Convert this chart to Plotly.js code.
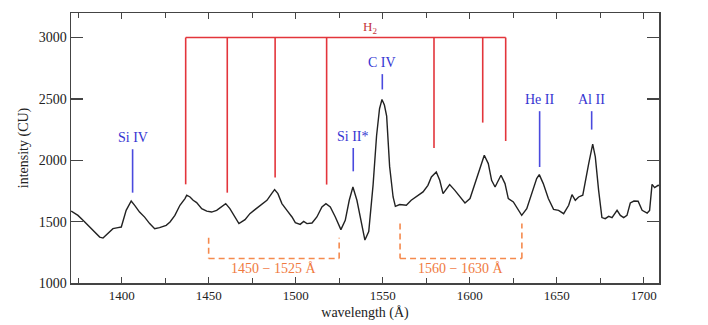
<!DOCTYPE html>
<html>
<head>
<meta charset="utf-8">
<script src="https://cdn.plot.ly/plotly-3.0.1.min.js"></script>
<style>
html,body{margin:0;padding:0;background:#fff;}
#chart{width:708px;height:325px;}
</style>
</head>
<body>
<div id="chart"></div>
<script>
// Spectrum (wavelength in Å, intensity in CU)
const wavelength = [
 1371,1374.9,1377.8,1381.6,1384.5,1387.4,1389.3,1392.1,1395,1397.9,1399.8,1402.6,1405.5,1407.5,1410.3,1413.2,1416.1,1419,1421.8,1425.6,
 1427.8,1430.6,1433.5,1436.4,1437.4,1439.3,1441.1,1443.1,1446,1448.9,1451.7,1454.6,1457.5,1459.8,1462.2,1465.1,1467.4,1470.9,1473.7,1476.6,
 1479.5,1481.5,1483.5,1486.4,1487.9,1489.8,1492.1,1495,1497.9,1499.8,1502.6,1504.6,1506.5,1509.4,1512.2,1515.1,1517.4,1519.9,1522.8,1526,
 1528.5,1530.8,1532.9,1535.2,1538.1,1539.8,1542,1544.5,1546.5,1548.2,1549.6,1551,1552.3,1554,1556,1557.3,1559.8,1563.6,1566.4,1569.3,
 1571.3,1573.2,1576,1578,1580.8,1582.8,1584.7,1586.6,1588.5,1591.5,1594.4,1597.3,1600.2,1603,1605.9,1608.4,1610.7,1612.6,1614.6,1616.4,
 1618,1620.3,1622.2,1625.1,1627.9,1629.9,1632.8,1635.6,1638.5,1640,1642.3,1645.2,1648.2,1651.1,1654,1656.9,1658.8,1660.7,1662.6,1665,
 1666.4,1668.4,1670.7,1672.2,1674.1,1676,1677.9,1679.9,1681.8,1684.7,1686.6,1688.5,1690.4,1692.3,1694.4,1696.8,1699.1,1702,1703.4,1704.8,
 1706.3,1708.3,1710
];
const intensity = [
 1586,1551,1511,1456,1415,1374,1366,1402,1443,1451,1456,1592,1668,1633,1578,1537,1484,1443,1451,1470,
 1497,1551,1633,1688,1715,1701,1674,1655,1606,1586,1578,1592,1619,1647,1606,1538,1484,1516,1565,1598,
 1633,1652,1674,1733,1761,1728,1647,1592,1538,1492,1478,1502,1484,1489,1538,1619,1647,1619,1538,1435,
 1511,1674,1782,1674,1484,1350,1420,1800,2200,2420,2495,2450,2360,1950,1701,1625,1639,1633,1674,1706,
 1728,1742,1796,1864,1905,1837,1728,1769,1802,1755,1701,1652,1688,1810,1945,2041,1973,1837,1782,1837,
 1878,1810,1688,1660,1592,1551,1606,1728,1851,1883,1810,1688,1600,1592,1565,1633,1720,1674,1701,1715,
 1837,1973,2131,2027,1755,1533,1524,1543,1533,1592,1551,1533,1551,1652,1668,1666,1592,1570,1592,1804,
 1777,1796,1790
];

// H2 line markers
const h2Wavelengths = [1436.8,1460.7,1488.2,1517.8,1579.5,1607.5,1620.7];
const h2LineEnds = [1804,1736,1859,1802,2100,2307,2157];
const h2Top = 3000;
const h2Label = "H<sub>2</sub>";
const h2LabelWl = 1543;

// Ion line markers
const ionNames = ["Si IV","Si II*","C IV","He II","Al II"];
const ionWavelengths = [1406.3,1533.1,1549.8,1640.2,1670.1];
const ionTops = [2090,2100,2702,2400,2400];
const ionBottoms = [1736,1910,2577,1945,2250];

// Wavelength bands (orange brackets)
const bandStarts = [1450,1560];
const bandEnds = [1525,1630];
const bandTops = [1368,1485];
const bandBottom = 1200;
const bandLabels = ["1450 − 1525 Å","1560 − 1630 Å"];

const red = "#e3353b", blue = "#4a4ade", orange = "#f58a4e";
const shapes = [];
const annotations = [];

// H2 bracket
shapes.push({type:"line", xref:"x", yref:"y", x0:h2Wavelengths[0], x1:h2Wavelengths[h2Wavelengths.length-1], y0:h2Top, y1:h2Top, line:{color:red, width:1.6}});
h2Wavelengths.forEach((w,i)=>{
  shapes.push({type:"line", xref:"x", yref:"y", x0:w, x1:w, y0:h2Top, y1:h2LineEnds[i], line:{color:red, width:1.6}});
});
annotations.push({x:h2LabelWl, y:h2Top, xref:"x", yref:"y", text:h2Label, showarrow:false, yanchor:"middle", yshift:10,
  font:{family:"Liberation Serif, serif", size:13, color:"#c4333a"}});

// Ion markers
ionNames.forEach((n,i)=>{
  shapes.push({type:"line", xref:"x", yref:"y", x0:ionWavelengths[i], x1:ionWavelengths[i], y0:ionTops[i], y1:ionBottoms[i], line:{color:blue, width:1.6}});
  annotations.push({x:ionWavelengths[i], y:ionTops[i], xref:"x", yref:"y", text:n, showarrow:false, yanchor:"middle", yshift:12,
    font:{family:"Liberation Serif, serif", size:14, color:"#3535d2"}});
});

// Band brackets
bandStarts.forEach((s,i)=>{
  const e = bandEnds[i];
  const ln = {color:orange, width:1.6, dash:"6px,4px"};
  shapes.push({type:"line", xref:"x", yref:"y", x0:s, x1:s, y0:bandTops[i], y1:bandBottom, line:ln});
  shapes.push({type:"line", xref:"x", yref:"y", x0:s, x1:e, y0:bandBottom, y1:bandBottom, line:ln});
  shapes.push({type:"line", xref:"x", yref:"y", x0:e, x1:e, y0:bandBottom, y1:bandTops[i], line:ln});
  annotations.push({x:(s+e)/2, y:bandBottom, xref:"x", yref:"y", text:bandLabels[i], showarrow:false, yanchor:"middle", yshift:-10,
    font:{family:"Liberation Serif, serif", size:14, color:"#f07a3e"}});
});

const trace = {x:wavelength, y:intensity, type:"scatter", mode:"lines", line:{color:"#222", width:1.4}, hoverinfo:"skip"};

const axisCommon = {
  showgrid:false, zeroline:false, showline:true, linecolor:"#444", linewidth:1.5,
  ticks:"inside", mirror:"ticks", tickcolor:"#444", tickwidth:1.3
};

const layout = {
  width:708, height:325,
  margin:{l:71, r:49, t:13, b:42.4},
  paper_bgcolor:"#fff", plot_bgcolor:"#fff",
  showlegend:false,
  xaxis:Object.assign({}, axisCommon, {
    range:[1370.9,1708.8], dtick:50, tick0:1400, ticklen:6,
    tickfont:{family:"Liberation Serif, serif", size:13, color:"#222"},
    minor:{dtick:25, tick0:1400, ticks:"inside", ticklen:5, tickcolor:"#444", tickwidth:1.2},
    title:{text:"wavelength (Å)", standoff:5, font:{family:"Liberation Serif, serif", size:14, color:"#222"}}
  }),
  yaxis:Object.assign({}, axisCommon, {
    range:[1000,3200], tickvals:[1000,1500,2000,2500,3000], ticklen:12,
    tickfont:{family:"Liberation Serif, serif", size:14, color:"#222"},
    title:{text:"intensity (CU)", standoff:7, font:{family:"Liberation Serif, serif", size:14, color:"#222"}}
  }),
  shapes:shapes,
  annotations:annotations
};

Plotly.newPlot("chart", [trace], layout, {staticPlot:true, displayModeBar:false});
</script>
</body>
</html>
